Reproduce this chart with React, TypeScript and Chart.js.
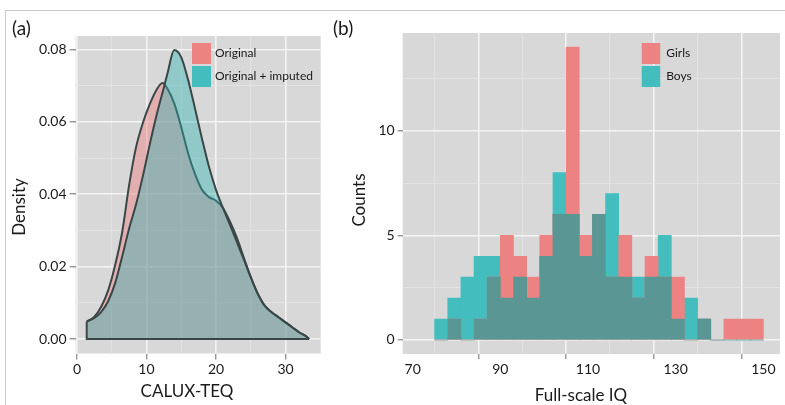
import React, { useEffect, useRef } from "react";
import { Chart, registerables } from "chart.js";
Chart.register(...registerables);

// ---------- Panel (a): density of CALUX-TEQ ----------
const caluxX = [1.4, 2.5, 3.5, 4.5, 5.5, 6.5, 7.5, 8.5, 9.5, 10.5, 11.5, 12.3, 13, 14, 15, 16, 17, 18, 19, 20, 21, 22, 23, 24, 25, 26, 27, 28, 29, 30, 31, 32, 33, 33.4];
const densityOriginal = [0.0048, 0.0062, 0.009, 0.0135, 0.0205, 0.0295, 0.0425, 0.053, 0.0598, 0.065, 0.069, 0.0707, 0.0692, 0.065, 0.0585, 0.0512, 0.0455, 0.0412, 0.0392, 0.0382, 0.0362, 0.0325, 0.028, 0.0225, 0.0172, 0.0126, 0.0092, 0.0074, 0.006, 0.0046, 0.0032, 0.0018, 0.0007, 0];
const densityImputed = [0.0048, 0.0058, 0.0075, 0.0105, 0.0155, 0.0228, 0.0305, 0.0372, 0.0452, 0.054, 0.0622, 0.068, 0.0732, 0.0798, 0.0778, 0.0715, 0.0635, 0.0552, 0.0475, 0.0412, 0.0362, 0.0316, 0.0268, 0.022, 0.017, 0.0125, 0.0092, 0.0074, 0.006, 0.0046, 0.0032, 0.0018, 0.0007, 0];
const densitySeries = ["Original", "Original + imputed"];
const aXTicks = [0, 10, 20, 30];
const aYTicks = [0, 0.02, 0.04, 0.06, 0.08];
const aXTitle = "CALUX-TEQ";
const aYTitle = "Density";

// ---------- Panel (b): histogram of full-scale IQ ----------
const iqBinStart = [75, 78, 81, 84, 87, 90, 93, 96, 99, 102, 105, 108, 111, 114, 117, 120, 123, 126, 129, 132, 135, 138, 141, 144, 147];
const iqBinWidth = 3;
const girlsCounts = [0, 1, 0, 1, 3, 5, 4, 3, 5, 6, 14, 5, 6, 3, 5, 2, 4, 3, 3, 0, 1, 0, 1, 1, 1];
const boysCounts = [1, 2, 3, 4, 4, 2, 3, 2, 4, 8, 6, 4, 6, 7, 3, 3, 3, 5, 1, 2, 1, 0, 0, 0, 0];
const histSeries = ["Girls", "Boys"];
const bXTicks = [70, 90, 110, 130, 150];
const bYTicks = [0, 5, 10];
const bXTitle = "Full-scale IQ";
const bYTitle = "Counts";

// ---------- styles ----------
const FONT = "Lato, 'DejaVu Sans', sans-serif";
const PANEL_BG = "#D8D8D8";
const GRID_MAJOR = "#F3F3F3";
const GRID_MINOR = "#E5E5E5";
const TICK_MARK = "#6A6A6A";
const TEXT = "#1A1A1A";
const OUTLINE = "#3B4747";
const PINK_KEY = "#EC8282";
const TEAL_KEY = "#43BDBD";
const OVERLAP_BAR = "#5A9794";

function withMinor(major: number[], min: number, max: number) {
  const step = major[1] - major[0];
  const all = [...major];
  for (let i = -1; i < major.length; i++) {
    const base = i < 0 ? major[0] - step : major[i];
    all.push(base + step / 2);
  }
  return all.filter((v) => v >= min - 1e-9 && v <= max + 1e-9).sort((a, b) => a - b);
}
const isIn = (arr: number[], v: any) => typeof v === "number" && arr.some((m) => Math.abs(m - v) < 1e-9);
const tickVal = (c: any) => (c && c.tick ? c.tick.value : undefined);

function axis(major: number[], min: number, max: number, fmt: (v: number) => string, size: number, tickLength: number, pad: number) {
  return {
    type: "linear",
    min,
    max,
    offset: false,
    afterBuildTicks: (s: any) => {
      s.ticks = withMinor(major, min, max).map((v) => ({ value: v }));
    },
    afterFit: (s: any) => {
      if (s.isHorizontal()) s.height = size;
      else s.width = size;
    },
    border: { display: false },
    grid: {
      color: (c: any) => (isIn(major, tickVal(c)) ? GRID_MAJOR : GRID_MINOR),
      lineWidth: (c: any) => (isIn(major, tickVal(c)) ? 1.6 : 0.8),
      tickColor: (c: any) => (isIn(major, tickVal(c)) ? TICK_MARK : "rgba(0,0,0,0)"),
      tickLength,
      tickWidth: 1,
    },
    ticks: {
      autoSkip: false,
      maxRotation: 0,
      padding: pad,
      color: TEXT,
      font: { family: FONT, size: 14 },
      callback: (v: number) => (isIn(major, v) ? fmt(v) : ""),
    },
  };
}

const panelBg = {
  id: "panelBg",
  beforeDraw(chart: any) {
    const { ctx, chartArea: a } = chart;
    ctx.save();
    ctx.fillStyle = PANEL_BG;
    ctx.fillRect(a.left, a.top, a.right - a.left, a.bottom - a.top);
    ctx.restore();
  },
};

const keyLegend = {
  id: "keyLegend",
  afterDraw(chart: any, _args: any, o: any) {
    const ctx = chart.ctx;
    ctx.save();
    o.items.forEach((it: any, i: number) => {
      const y = o.y + i * o.h;
      ctx.fillStyle = it.color;
      ctx.fillRect(o.x, y, o.w, o.h - 2);
      ctx.fillStyle = TEXT;
      ctx.font = `${o.size}px ${FONT}`;
      ctx.textAlign = "left";
      ctx.textBaseline = "middle";
      ctx.fillText(it.label, o.x + o.w + o.gap, y + (o.h - 2) / 2);
    });
    ctx.restore();
  },
};

const texts = {
  id: "texts",
  afterDraw(chart: any, _args: any, o: any) {
    const ctx = chart.ctx;
    o.items.forEach((t: any) => {
      ctx.save();
      ctx.translate(t.x, t.y);
      ctx.rotate(t.rot || 0);
      ctx.fillStyle = TEXT;
      ctx.font = `${t.size}px ${FONT}`;
      ctx.textAlign = t.align || "center";
      ctx.textBaseline = "middle";
      ctx.fillText(t.text, 0, 0);
      ctx.restore();
    });
  },
};

function DensityPanel() {
  const ref = useRef<HTMLCanvasElement>(null);
  useEffect(() => {
    const xMin = -0.2, xMax = 35.05, yMin = -0.004, yMax = 0.0837;
    const pts = (ys: number[]) => caluxX.map((x, i) => ({ x, y: ys[i] }));
    const last = caluxX.length - 1;
    const chart = new Chart(ref.current!, {
      type: "line",
      data: {
        datasets: [
          {
            label: densitySeries[0],
            data: pts(densityOriginal),
            borderColor: OUTLINE,
            borderWidth: 2,
            backgroundColor: "rgba(240,120,125,0.42)",
            fill: "origin",
            pointRadius: 0,
            cubicInterpolationMode: "monotone",
            order: 3,
          },
          {
            label: densitySeries[1],
            data: pts(densityImputed),
            borderColor: OUTLINE,
            borderWidth: 2,
            backgroundColor: "rgba(40,180,180,0.4)",
            fill: "origin",
            pointRadius: 0,
            cubicInterpolationMode: "monotone",
            order: 2,
          },
          {
            label: "baseline",
            data: [
              { x: caluxX[0], y: densityOriginal[0] },
              { x: caluxX[0], y: 0 },
              { x: caluxX[last], y: 0 },
            ],
            borderColor: OUTLINE,
            borderWidth: 2,
            fill: false,
            pointRadius: 0,
            tension: 0,
            order: 1,
          },
        ],
      } as any,
      options: {
        animation: false,
        responsive: false,
        layout: { padding: { left: 0, top: 36, right: 9.4, bottom: 0 } },
        scales: {
          x: axis(aXTicks, xMin, xMax, (v) => String(v), 51.5, 6, 2),
          y: axis(aYTicks, yMin, yMax, (v) => v.toFixed(2), 75.6, 6, 3),
        } as any,
        plugins: {
          legend: { display: false },
          tooltip: { enabled: false },
          keyLegend: {
            x: 192,
            y: 43,
            w: 19,
            h: 23,
            gap: 4,
            size: 12,
            items: [
              { label: densitySeries[0], color: PINK_KEY },
              { label: densitySeries[1], color: TEAL_KEY },
            ],
          },
          texts: {
            items: [
              { text: aXTitle, x: 187, y: 392, size: 17 },
              { text: aYTitle, x: 20, y: 207, size: 17, rot: -Math.PI / 2 },
              { text: "(a)", x: 12, y: 29, size: 19, align: "left" },
            ],
          },
        } as any,
      },
      plugins: [panelBg, keyLegend, texts],
    });
    return () => chart.destroy();
  }, []);
  return <canvas ref={ref} width={330} height={405} style={{ position: "absolute", left: 0, top: 0, width: 330, height: 405 }} />;
}

function HistogramPanel() {
  const ref = useRef<HTMLCanvasElement>(null);
  useEffect(() => {
    const xMin = 67.72, xMax = 153.8, yMin = -0.67, yMax = 14.67;
    const centers = iqBinStart.map((s) => s + iqBinWidth / 2);
    const overlap = girlsCounts.map((g, i) => Math.min(g, boysCounts[i]));
    const chart = new Chart(ref.current!, {
      type: "bar",
      data: {
        datasets: [
          { label: "overlap", data: centers.map((x, i) => ({ x, y: overlap[i] })), backgroundColor: OVERLAP_BAR, order: 1 },
          { label: histSeries[0], data: centers.map((x, i) => ({ x, y: girlsCounts[i] })), backgroundColor: PINK_KEY, order: 2 },
          { label: histSeries[1], data: centers.map((x, i) => ({ x, y: boysCounts[i] })), backgroundColor: TEAL_KEY, order: 3 },
        ],
      } as any,
      options: {
        animation: false,
        responsive: false,
        datasets: { bar: { grouped: false, barPercentage: 1, categoryPercentage: 1, borderWidth: 0 } } as any,
        layout: { padding: { left: 0, top: 33, right: 5, bottom: 0 } },
        scales: {
          x: axis(bXTicks, xMin, xMax, (v) => String(v), 51, 5, 2),
          y: axis(bYTicks, yMin, yMax, (v) => String(v), 72.7, 5, 3),
        } as any,
        plugins: {
          legend: { display: false },
          tooltip: { enabled: false },
          keyLegend: {
            x: 311.7,
            y: 43,
            w: 18.5,
            h: 23,
            gap: 6,
            size: 12,
            items: [
              { label: histSeries[0], color: PINK_KEY },
              { label: histSeries[1], color: TEAL_KEY },
            ],
          },
          texts: {
            items: [
              { text: bXTitle, x: 251, y: 396, size: 17 },
              { text: bYTitle, x: 30, y: 200, size: 17, rot: -Math.PI / 2 },
              { text: "(b)", x: 3, y: 29, size: 19, align: "left" },
            ],
          },
        } as any,
      },
      plugins: [panelBg, keyLegend, texts],
    });
    return () => chart.destroy();
  }, []);
  return <canvas ref={ref} width={455} height={405} style={{ position: "absolute", left: 330, top: 0, width: 455, height: 405 }} />;
}

export default function App() {
  return (
    <div style={{ position: "fixed", left: 0, top: 0, width: 785, height: 405, background: "#fff", overflow: "hidden" }}>
      <div style={{ position: "absolute", left: 5, top: 10, width: 780, height: 0, borderTop: "1px solid #C9C9C9" }} />
      <div style={{ position: "absolute", left: 5, top: 10, width: 0, height: 395, borderLeft: "1px solid #C9C9C9" }} />
      <DensityPanel />
      <HistogramPanel />
    </div>
  );
}
